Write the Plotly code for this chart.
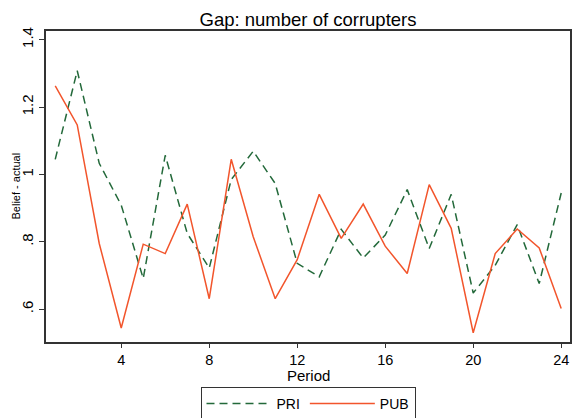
import plotly.graph_objects as go

periods = list(range(1, 25))
pri = [1.045, 1.308, 1.033, 0.909, 0.691, 1.057, 0.825, 0.722, 0.985, 1.069,
       0.973, 0.736, 0.696, 0.837, 0.752, 0.820, 0.955, 0.780, 0.941, 0.648,
       0.730, 0.851, 0.676, 0.945]
pub = [1.263, 1.147, 0.795, 0.544, 0.793, 0.765, 0.912, 0.631, 1.045, 0.815,
       0.631, 0.747, 0.941, 0.810, 0.912, 0.787, 0.706, 0.970, 0.840, 0.530,
       0.765, 0.838, 0.782, 0.602]
x_ticks = [4, 8, 12, 16, 20, 24]
y_ticks = [0.6, 0.8, 1.0, 1.2, 1.4]
y_ticklabels = [".6", ".8", "1", "1.2", "1.4"]

FONT = "Liberation Sans, Arial, sans-serif"
W, H = 572, 418
L, R, T, B = 46, 2, 31, 76
PW, PH = W - L - R, H - T - B

fig = go.Figure()
fig.add_trace(go.Scatter(x=periods, y=pri, mode="lines", name="PRI",
                         line=dict(color="#23693a", width=1.5, dash="8px,5px")))
fig.add_trace(go.Scatter(x=periods, y=pub, mode="lines", name="PUB",
                         line=dict(color="#f2552c", width=1.5)))

fig.update_layout(
    width=W, height=H,
    margin=dict(l=L, r=R, t=T, b=B, autoexpand=False),
    paper_bgcolor="white", plot_bgcolor="white",
    font=dict(family=FONT, color="black"),
    title=dict(text="Gap: number of corrupters", x=308/W, xanchor="center",
               y=1 - 20/H, yanchor="middle", font=dict(size=18.5)),
    showlegend=True,
    legend=dict(orientation="h", xanchor="center", x=(308 - L)/PW, yref="container",
                yanchor="top", y=(H - 387)/H, bordercolor="#333333", borderwidth=1,
                font=dict(size=14), itemwidth=65, tracegroupgap=0),
    xaxis=dict(range=[0.58, 24.4], tickmode="array", tickvals=x_ticks,
               automargin=False,
               showgrid=False, zeroline=False, showline=True, mirror=True,
               linecolor="#333333", linewidth=1.5, ticks="outside", ticklen=4,
               tickcolor="#333333", tickfont=dict(size=14.5)),
    yaxis=dict(range=[0.5025, 1.426], tickmode="array", tickvals=y_ticks,
               ticktext=y_ticklabels, tickangle=-90, automargin=False,
               showgrid=False, zeroline=False, showline=True, mirror=True,
               linecolor="#333333", linewidth=1.5, ticks="outside", ticklen=5,
               tickcolor="#333333", tickfont=dict(size=15)),
    annotations=[
        dict(text="Period", xref="paper", yref="paper",
             x=(308 - L)/PW, y=(T + PH - 375)/PH, xanchor="center", yanchor="middle",
             showarrow=False, font=dict(size=15)),
        dict(text="Belief - actual", xref="paper", yref="paper",
             x=(15 - L)/PW, y=0.5, xanchor="center", yanchor="middle",
             textangle=-90, showarrow=False, font=dict(size=11)),
    ],
)

fig.write_html("out.html", config={"displayModeBar": False},
               post_script="document.body.style.margin='0';document.body.style.padding='0';")
